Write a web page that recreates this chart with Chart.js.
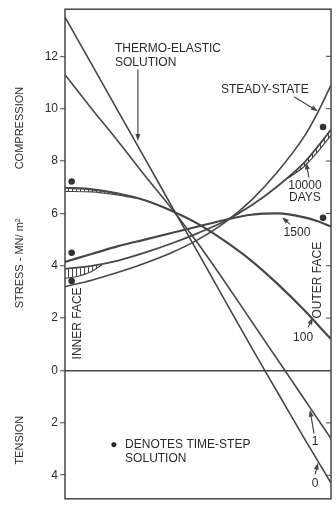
<!DOCTYPE html>
<html>
<head>
<meta charset="utf-8">
<script src="https://cdn.jsdelivr.net/npm/chart.js@4.4.1/dist/chart.umd.min.js"></script>
<style>
  html, body { margin: 0; padding: 0; background: #fff; }
  #wrap { width: 336px; height: 508px; position: relative; }
</style>
</head>
<body>
<div id="wrap"><canvas id="stressChart"></canvas></div>
<script>
// position across the wall: 0 = inner face, 1 = outer face
const radius = [0, 0.1, 0.2, 0.3, 0.4, 0.5, 0.6, 0.7, 0.8, 0.9, 0.95, 1.0];

// stress in MN/m2, compression positive, tension negative
const day0 = [13.5, 11.7, 9.9, 8.1, 6.3, 4.5, 2.7, 0.9, -0.85, -2.6, -3.45, -4.3];
const day1 = [11.3, 10.0, 8.75, 7.45, 6.2, 4.85, 3.4, 1.9, 0.4, -1.1, -1.85, -2.6];
const day100 = [6.98, 6.92, 6.76, 6.5, 6.1, 5.6, 4.95, 4.2, 3.3, 2.3, 1.75, 1.2];
const day1500 = [4.15, 4.45, 4.75, 5.0, 5.25, 5.5, 5.75, 5.95, 6.0, 5.85, 5.7, 5.5];
const day10000 = [3.88, 4.0, 4.2, 4.5, 4.85, 5.25, 5.7, 6.3, 7.05, 7.95, 8.55, 9.2];
const steady = [3.2, 3.45, 3.75, 4.1, 4.5, 5.0, 5.65, 6.5, 7.6, 8.95, 9.85, 10.9];

// hatched bands (spread between solutions)
const band100X = [0, 0.1, 0.2, 0.27];
const band100Hi = [6.98, 6.92, 6.76, 6.58];
const band100Lo = [6.84, 6.82, 6.7, 6.58];
const band10kInX = [0, 0.05, 0.1, 0.14];
const band10kInHi = [3.88, 3.93, 4.0, 4.07];
const band10kInLo = [3.52, 3.6, 3.78, 4.05];
const band10kOutX = [0.84, 0.9, 0.95, 1.0];
const band10kOutHi = [7.4, 7.95, 8.55, 9.2];
const band10kOutLo = [7.35, 7.8, 8.35, 8.98];

// time-step solution points
const dotX = [0.025, 0.025, 0.025, 0.97, 0.97];
const dotY = [7.22, 4.5, 3.42, 9.3, 5.83];

const yTicks = [-4, -2, 0, 2, 4, 6, 8, 10, 12];

// annotations, in data units
const notes = [
  { t: 'THERMO-ELASTIC', x: 0.188, y: 12.29, al: 'left' },
  { t: 'SOLUTION', x: 0.188, y: 11.77, al: 'left' },
  { t: 'STEADY-STATE', x: 0.586, y: 10.74, al: 'left' },
  { t: '10000', x: 0.902, y: 7.05, al: 'center' },
  { t: 'DAYS', x: 0.902, y: 6.6, al: 'center' },
  { t: '1500', x: 0.872, y: 5.28, al: 'center' },
  { t: '100', x: 0.895, y: 1.27, al: 'center' },
  { t: '1', x: 0.94, y: -2.7, al: 'center' },
  { t: '0', x: 0.94, y: -4.31, al: 'center' },
  { t: '\u25CF', x: 0.184, y: -2.85, al: 'center' },
  { t: 'DENOTES TIME-STEP', x: 0.226, y: -2.85, al: 'left' },
  { t: 'SOLUTION', x: 0.226, y: -3.37, al: 'left' }
];
const faceNotes = [
  { t: 'OUTER FACE', x: 0.951, y: 3.45 },
  { t: 'INNER FACE', x: 0.049, y: 1.8 }
];
const sideNotes = [
  { t: 'COMPRESSION', y: 9.26 },
  { t: 'STRESS - MN/ m\u00B2', y: 4.09 },
  { t: 'TENSION', y: -2.66 }
];
const arrows = [
  { from: [0.274, 11.5], to: [0.274, 8.77] },
  { from: [0.861, 10.46], to: [0.951, 9.9] },
  { from: [0.917, 7.38], to: [0.906, 7.95] },
  { from: [0.846, 5.58], to: [0.816, 5.85] },
  { from: [0.914, 1.65], to: [0.932, 2.02] },
  { from: [0.936, -2.4], to: [0.921, -1.5] },
  { from: [0.94, -3.97], to: [0.951, -3.52] }
];

const ink = '#474747';
const font = '"Liberation Sans", Arial, sans-serif';

const canvas = document.getElementById('stressChart');
const tile = document.createElement('canvas');
tile.width = 4; tile.height = 4;
const tc = tile.getContext('2d');
tc.fillStyle = ink;
tc.fillRect(0, 0, 1, 4);
const hatch = canvas.getContext('2d').createPattern(tile, 'repeat');

function pts(xs, ys) { return xs.map((x, i) => ({ x: x, y: ys[i] })); }

function curve(ys, width) {
  return { data: pts(radius, ys), borderColor: ink, borderWidth: width || 1.6, pointRadius: 0, cubicInterpolationMode: 'monotone', fill: false };
}

// lower edge filled up to the next (invisible) upper edge
function band(xs, lo, hi) {
  return [
    { data: pts(xs, lo), borderColor: ink, borderWidth: 1.2, pointRadius: 0, cubicInterpolationMode: 'monotone', fill: '+1', backgroundColor: hatch },
    { data: pts(xs, hi), borderColor: 'rgba(0,0,0,0)', borderWidth: 0, pointRadius: 0, cubicInterpolationMode: 'monotone', fill: false }
  ];
}

const decor = {
  id: 'decor',
  afterDraw(chart) {
    const { ctx, chartArea: a, scales: { x, y } } = chart;
    const px = v => x.getPixelForValue(v);
    const py = v => y.getPixelForValue(v);
    ctx.save();

    // frame
    ctx.strokeStyle = ink;
    ctx.lineWidth = 1.5;
    ctx.strokeRect(a.left, a.top, a.right - a.left, a.bottom - a.top);

    // inward ticks on the outer face side
    ctx.lineWidth = 1;
    yTicks.forEach(v => {
      ctx.beginPath();
      ctx.moveTo(a.right - 5, py(v));
      ctx.lineTo(a.right, py(v));
      ctx.stroke();
    });

    // arrows
    ctx.fillStyle = ink;
    ctx.lineWidth = 1.2;
    arrows.forEach(ar => {
      const x0 = px(ar.from[0]), y0 = py(ar.from[1]);
      const x1 = px(ar.to[0]), y1 = py(ar.to[1]);
      const ang = Math.atan2(y1 - y0, x1 - x0);
      ctx.beginPath();
      ctx.moveTo(x0, y0);
      ctx.lineTo(x1 - 5 * Math.cos(ang), y1 - 5 * Math.sin(ang));
      ctx.stroke();
      ctx.beginPath();
      ctx.moveTo(x1, y1);
      ctx.lineTo(x1 - 7 * Math.cos(ang) + 2.5 * Math.sin(ang), y1 - 7 * Math.sin(ang) - 2.5 * Math.cos(ang));
      ctx.lineTo(x1 - 7 * Math.cos(ang) - 2.5 * Math.sin(ang), y1 - 7 * Math.sin(ang) + 2.5 * Math.cos(ang));
      ctx.closePath();
      ctx.fill();
    });

    // text
    ctx.fillStyle = '#2b2b2b';
    ctx.textBaseline = 'middle';
    ctx.font = '12px ' + font;
    notes.forEach(n => {
      ctx.textAlign = n.al;
      ctx.fillText(n.t, px(n.x), py(n.y));
    });
    ctx.textAlign = 'center';
    faceNotes.forEach(n => {
      ctx.save();
      ctx.translate(px(n.x), py(n.y));
      ctx.rotate(-Math.PI / 2);
      ctx.fillText(n.t, 0, 0);
      ctx.restore();
    });
    ctx.font = '11px ' + font;
    sideNotes.forEach(n => {
      ctx.save();
      ctx.translate(a.left - 45, py(n.y));
      ctx.rotate(-Math.PI / 2);
      ctx.fillText(n.t, 0, 0);
      ctx.restore();
    });

    ctx.restore();
  }
};

new Chart(canvas, {
  type: 'line',
  data: {
    datasets: [
      curve(day0),
      curve(day1),
      curve(day100, 2.2),
      curve(day1500, 2.2),
      curve(day10000, 1.8),
      curve(steady),
      ...band(band100X, band100Lo, band100Hi),
      ...band(band10kInX, band10kInLo, band10kInHi),
      ...band(band10kOutX, band10kOutLo, band10kOutHi),
      { data: pts(dotX, dotY), showLine: false, pointRadius: 3.3, pointBackgroundColor: '#333', pointBorderWidth: 0 }
    ]
  },
  options: {
    responsive: true,
    maintainAspectRatio: false,
    animation: false,
    layout: { padding: { top: 4, right: 5, bottom: 5, left: 0 } },
    plugins: { legend: { display: false }, tooltip: { enabled: false } },
    scales: {
      x: { type: 'linear', min: 0, max: 1, display: false },
      y: {
        min: -4.9,
        max: 13.8,
        afterBuildTicks: s => { s.ticks = yTicks.map(v => ({ value: v })); },
        afterFit: s => { s.width = 65; },
        border: { display: false },
        grid: {
          color: c => (c.tick && c.tick.value === 0) ? ink : 'rgba(0,0,0,0)',
          lineWidth: 1.5,
          tickColor: ink,
          tickWidth: 1,
          tickLength: 5
        },
        ticks: {
          callback: v => Math.abs(v),
          color: '#2b2b2b',
          padding: 2,
          font: { family: font, size: 12 }
        }
      }
    }
  },
  plugins: [decor]
});
</script>
</body>
</html>
